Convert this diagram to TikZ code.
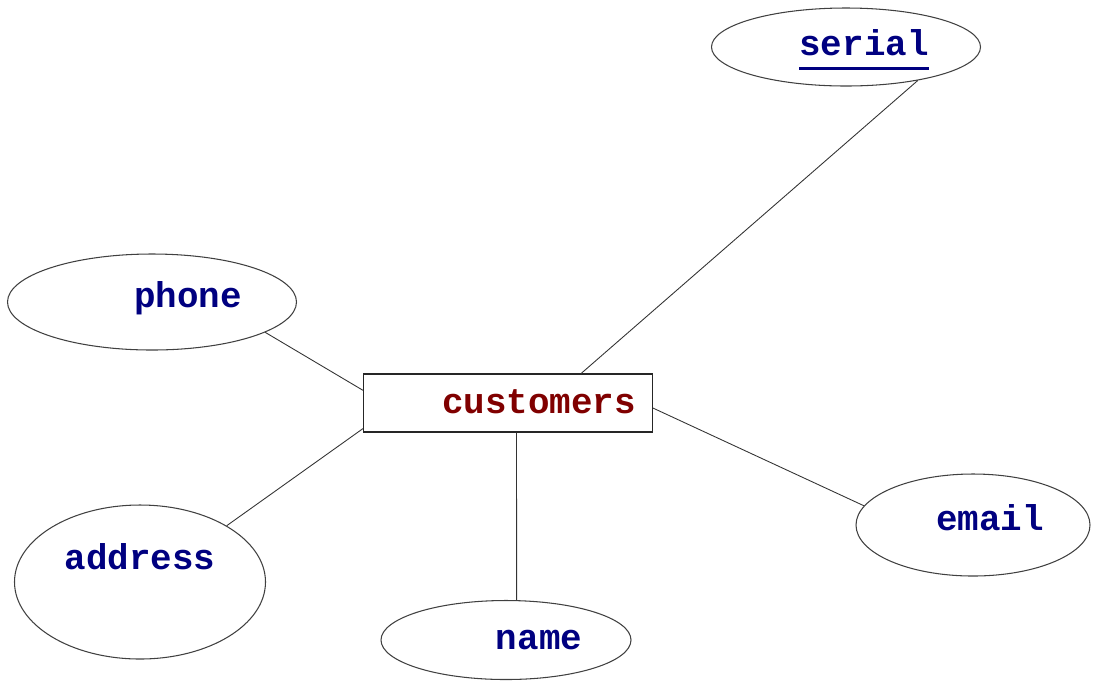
\documentclass[tikz,border=0pt]{standalone}
\usepackage{fontspec}
\setmonofont{Liberation Mono}
\usepackage{tikz}
\usetikzlibrary{shapes.geometric}

\definecolor{attrblue}{RGB}{0,0,128}
\definecolor{entred}{RGB}{128,0,0}

% underlined key attribute
\newcommand{\pkey}[1]{\setbox0\hbox{#1}\rlap{\rule[-8pt]{\wd0}{1.6pt}}\box0}

\begin{document}
\begin{tikzpicture}[-,
            line width=0.6pt,
            attr/.style={ellipse,draw=black!75,inner sep=0pt},
            entity/.style={rectangle,draw=black!85,inner sep=0pt,
                           minimum width=5.78cm,minimum height=1.16cm},
            lbl/.style={font=\ttfamily\bfseries\fontsize{20.4}{24}\selectfont,
                        text=attrblue,inner sep=0pt},
            link/.style={draw=black!80,line width=0.5pt}]

        \useasboundingbox (0,0) rectangle (21.86,-13.64);

        \node[entity]   (cust)    at (10.16,-8.06)
              [label={[lbl,text=entred,name=custtxt,xshift=0.62cm,yshift=0.02cm]center:customers}] {};
        \node[attr,minimum width=5.38cm,minimum height=1.56cm] (serial)  at (16.92,-0.94)
              [label={[lbl,name=serialtxt,xshift=0.36cm,yshift=-0.05cm]center:\pkey{serial}}] {};
        \node[attr,minimum width=5.78cm,minimum height=1.92cm] (phone)   at (3.04,-6.04)
              [label={[lbl,name=phonetxt,xshift=0.72cm,yshift=0.08cm]center:phone}] {};
        \node[attr,minimum width=5.02cm,minimum height=3.08cm] (address) at (2.80,-11.64)
              [label={[lbl,name=addresstxt,yshift=0.5cm]center:address}] {};
        \node[attr,minimum width=5.0cm,minimum height=1.58cm]  (name)    at (10.12,-12.80)
              [label={[lbl,name=nametxt,xshift=0.66cm]center:name}] {};
        \node[attr,minimum width=4.68cm,minimum height=2.04cm] (email)   at (19.46,-10.50)
              [label={[lbl,name=emailtxt,xshift=0.34cm,yshift=0.14cm]center:email}] {};

        \path[link] (serial.-25)   edge (cust.22.5)
                    (phone.-15)    edge (cust.175)
                    (address.33)   edge (cust.190.5)
                    (name.75)      edge (cust.-74.6)
                    (email.170.3)  edge (cust.-2.8);

\end{tikzpicture}
\end{document}
